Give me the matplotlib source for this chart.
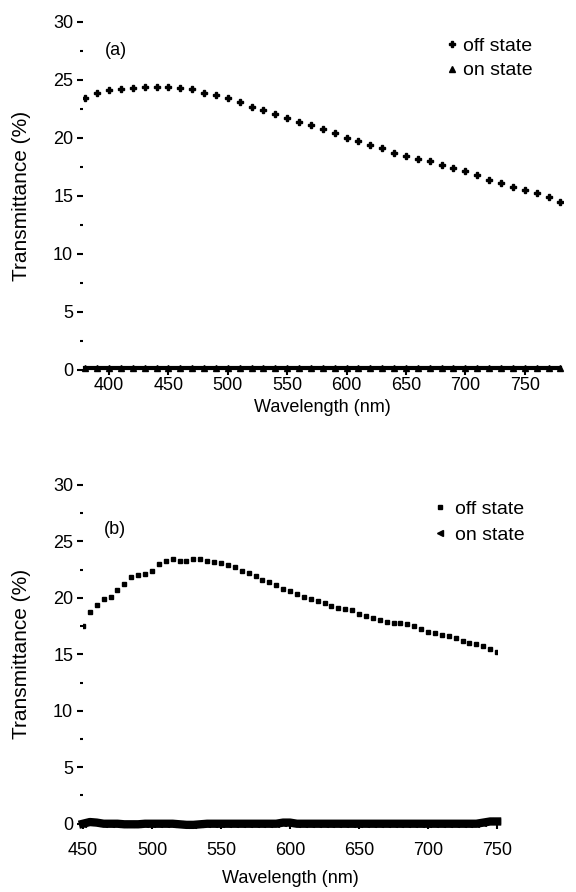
import numpy as np
import matplotlib
matplotlib.use('Agg')
import matplotlib.pyplot as plt
from matplotlib.ticker import MultipleLocator

plt.rcParams['font.family'] = ['Liberation Sans', 'DejaVu Sans']

# panel (a): 380-780 nm every 10 nm
wl_a = np.arange(380, 781, 10)
off_a = [23.4, 23.9, 24.1, 24.2, 24.3, 24.4, 24.4, 24.4, 24.3, 24.2,
         23.9, 23.7, 23.4, 23.1, 22.7, 22.4, 22.1, 21.7, 21.4, 21.1,
         20.8, 20.4, 20.0, 19.7, 19.4, 19.1, 18.7, 18.4, 18.2, 18.0,
         17.7, 17.4, 17.1, 16.8, 16.4, 16.1, 15.8, 15.5, 15.2, 14.9,
         14.5]
on_a = [0.1] * len(wl_a)

# panel (b): 450-750 nm every 5 nm
wl_b = np.arange(450, 751, 5)
off_b = [17.5, 18.7, 19.4, 19.9, 20.1, 20.7, 21.2, 21.8, 22.0, 22.1,
         22.4, 23.0, 23.3, 23.4, 23.3, 23.3, 23.4, 23.4, 23.3, 23.2,
         23.1, 22.9, 22.7, 22.4, 22.2, 21.9, 21.6, 21.4, 21.1, 20.8,
         20.6, 20.3, 20.1, 19.9, 19.7, 19.5, 19.3, 19.1, 19.0, 18.9,
         18.6, 18.4, 18.2, 18.05, 17.9, 17.8, 17.8, 17.7, 17.5, 17.2,
         17.0, 16.9, 16.7, 16.6, 16.4, 16.2, 16.0, 15.9, 15.7, 15.5,
         15.2]
on_b = [0.0, 0.15, 0.1, 0.0, 0.0, 0.0, -0.05, -0.05, -0.05, 0.0,
        0.0, 0.0, 0.0, 0.0, -0.05, -0.1, -0.1, -0.05, 0.0, 0.0,
        0.0, 0.0, 0.0, 0.0, 0.0, 0.0, 0.0, 0.0, 0.0, 0.1,
        0.1, 0.0, 0.0, 0.0, 0.0, 0.0, 0.0, 0.0, 0.0, 0.0,
        0.0, 0.0, 0.0, 0.0, 0.0, 0.0, 0.0, 0.0, 0.0, 0.0,
        0.0, 0.0, 0.0, 0.0, 0.0, 0.0, 0.0, 0.0, 0.1, 0.2,
        0.2]

fig = plt.figure(figsize=(5.76, 8.92), dpi=100)
ax1 = fig.add_axes([0.144, 0.583, 0.833, 0.395])
ax2 = fig.add_axes([0.144, 0.074, 0.719, 0.385])


def style(ax, xpad, xlabelpad):
    for s in ax.spines.values():
        s.set_visible(False)
    ax.set_ylim(-0.2, 30.2)
    ax.yaxis.set_major_locator(MultipleLocator(5))
    ax.yaxis.set_minor_locator(MultipleLocator(2.5))
    ax.xaxis.set_major_locator(MultipleLocator(50))
    ax.tick_params(axis='y', which='major', length=4, width=1.5, labelsize=13, pad=3)
    ax.tick_params(axis='y', which='minor', length=2, width=1.5)
    ax.tick_params(axis='x', which='major', direction='inout', length=5, width=1.5,
                   labelsize=13, pad=xpad)
    ax.set_xlabel('Wavelength (nm)', fontsize=13, labelpad=xlabelpad)
    ax.set_ylabel('Transmittance (%)', fontsize=15, labelpad=16)


# (a)
ax1.plot(wl_a, off_a, linestyle='none', marker='P', ms=5, color='black', label='off state')
ax1.plot(wl_a, on_a, linestyle='-', lw=3, marker='^', ms=4, color='black',
         label='on state', clip_on=False)
style(ax1, 1, 4)
ax1.set_xlim(378, 782)
ax1.text(0.045, 0.9, '(a)', transform=ax1.transAxes, fontsize=13)
leg1 = ax1.legend(loc='upper left', frameon=False, fontsize=14, handlelength=0.6,
                  handletextpad=0.3, borderpad=0, borderaxespad=0, labelspacing=0.35,
                  bbox_to_anchor=(0.774, 0.958), bbox_transform=fig.transFigure)
leg1.legend_handles[1].set_linewidth(0)

# (b)
ax2.plot(wl_b, off_b, linestyle='none', marker='s', ms=3.5, color='black', label='off state')
ax2.plot(wl_b, on_b, linestyle='-', lw=6, marker='<', ms=4, color='black',
         label='on state', clip_on=False)
style(ax2, 9, 8)
ax2.set_xlim(450, 750)
ax2.text(0.05, 0.85, '(b)', transform=ax2.transAxes, fontsize=13)
leg2 = ax2.legend(loc='upper left', frameon=False, fontsize=14, handlelength=0.6,
                  handletextpad=0.5, borderpad=0, borderaxespad=0, labelspacing=0.45,
                  bbox_to_anchor=(0.753, 0.4395), bbox_transform=fig.transFigure)
leg2.legend_handles[1].set_linewidth(0)

plt.savefig('out.png', dpi=100)
plt.close()
